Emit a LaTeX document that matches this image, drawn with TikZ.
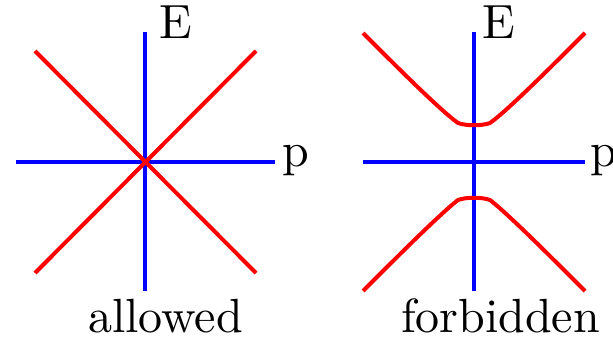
\documentclass[tikz,border=0pt]{standalone}
\usepackage{fontspec}
\newfontfamily\lmten{lmroman10-regular.otf}
\begin{document}
\begin{tikzpicture}[x=1pt,y=-1pt,
  axis/.style={draw=blue,line width=4pt},
  band/.style={draw=red,line width=4pt,line join=round},
  lbl/.style={inner sep=0pt,font=\lmten\fontsize{48}{52}\selectfont}]
\useasboundingbox (0,0) rectangle (613,339);
% left panel
\coordinate (LT) at (145,32);
\coordinate (LB) at (145,291);
\coordinate (LL) at (16,162);
\coordinate (LR) at (275,162);
\coordinate (LC) at (145,162);
\coordinate (LTL) at (35,51);
\coordinate (LBR) at (256,273);
\coordinate (LTR) at (256,51);
\coordinate (LBL) at (35,273);
\draw[axis] (LT) -- (LB);
\draw[axis] (LL) -- (LR);
\draw[band] (LTL) -- (LBR);
\draw[band] (LTR) -- (LBL);
\node[lbl,anchor=base west] (E1) at (159,39) {E};
\node[lbl,anchor=base west] (p1) at (282,167) {p};
\node[lbl,anchor=base] (al) at (165.5,332) {allowed};
% right panel
\coordinate (RT) at (474,32);
\coordinate (RB) at (474,291);
\coordinate (RL) at (363,162);
\coordinate (RR) at (585,162);
\draw[axis] (RT) -- (RB);
\draw[axis] (RL) -- (RR);
\coordinate (U1) at (363,33);
\coordinate (U2) at (458,123);
\coordinate (U3) at (490,123);
\coordinate (U4) at (585,33);
\coordinate (D1) at (363,291);
\coordinate (D2) at (458,200);
\coordinate (D3) at (490,200);
\coordinate (D4) at (585,291);
\draw[band] (U1) .. controls (400,70) and (440,110) .. (U2) .. controls (466,126) and (482,126) .. (U3) .. controls (508,110) and (548,70) .. (U4);
\draw[band] (D1) .. controls (400,254) and (440,214) .. (D2) .. controls (466,197) and (482,197) .. (D3) .. controls (508,214) and (548,254) .. (D4);
\node[lbl,anchor=base west] (E2) at (482,39) {E};
\node[lbl,anchor=base west] (p2) at (590,167) {p};
\node[lbl,anchor=base] (fb) at (500.5,332) {forbidden};
\end{tikzpicture}
\end{document}
